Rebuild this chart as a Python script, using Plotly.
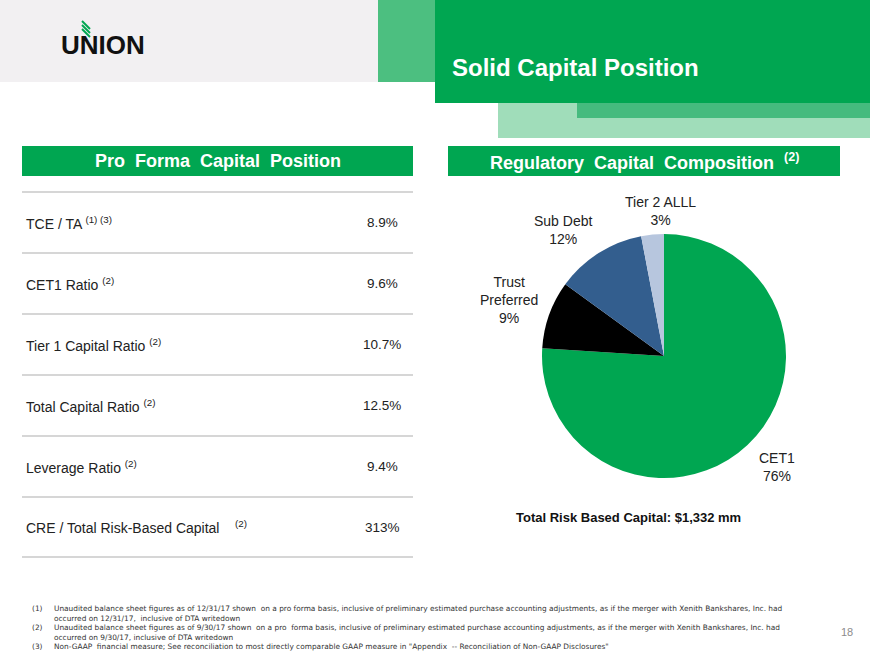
import plotly.graph_objects as go

# ---------------- data ----------------
metrics = ["TCE / TA", "CET1 Ratio", "Tier 1 Capital Ratio", "Total Capital Ratio",
           "Leverage Ratio", "CRE / Total Risk-Based Capital"]
metric_notes = ["(1) (3)", "(2)", "(2)", "(2)", "(2)", "(2)"]
metric_values = ["8.9%", "9.6%", "10.7%", "12.5%", "9.4%", "313%"]

pie_labels = ["CET1", "Trust Preferred", "Sub Debt", "Tier 2 ALLL"]
pie_values = [76, 9, 12, 3]
pie_label_text = ["CET1<br>76%", "Trust<br>Preferred<br>9%", "Sub Debt<br>12%", "Tier 2 ALLL<br>3%"]
pie_colors = ["#00A651", "#000000", "#335E8E", "#B7C6DE"]

footnote_nums = ["(1)", "", "(2)", "", "(3)"]
footnote_lines = [
    "Unaudited balance sheet figures as of 12/31/17 shown  on a pro forma basis, inclusive of preliminary estimated purchase accounting adjustments, as if the merger with Xenith Bankshares, Inc. had",
    "occurred on 12/31/17,  inclusive of DTA writedown",
    "Unaudited balance sheet figures as of 9/30/17 shown  on a pro  forma basis, inclusive of preliminary estimated purchase accounting adjustments, as if the merger with Xenith Bankshares, Inc. had",
    "occurred on 9/30/17, inclusive of DTA writedown",
    "Non-GAAP  financial measure; See reconciliation to most directly comparable GAAP measure in \"Appendix  -- Reconciliation of Non-GAAP Disclosures\"",
]

W, H = 870, 653
GREEN = "#00A651"

fig = go.Figure()

fig.add_trace(go.Pie(
    labels=pie_labels, values=pie_values, sort=False, direction="clockwise",
    rotation=0, textinfo="none", hoverinfo="label+percent",
    marker=dict(colors=pie_colors, line=dict(width=0)),
    domain=dict(x=[542 / W, 786 / W], y=[1 - 478 / H, 1 - 234 / H]),
    showlegend=False,
))

shapes = []
ann = []

def rect(x0, y0, x1, y1, color):
    shapes.append(dict(type="rect", xref="paper", yref="paper",
                       x0=x0 / W, x1=x1 / W, y0=1 - y1 / H, y1=1 - y0 / H,
                       fillcolor=color, line=dict(width=0), layer="below"))

def text(x, y, s, size=13, color="#222222", xanchor="left", bold=False, family="Arial", yanchor="middle", align="left"):
    if bold:
        s = "<b>" + s + "</b>"
    ann.append(dict(xref="paper", yref="paper", x=x / W, y=1 - y / H, text=s,
                    showarrow=False, xanchor=xanchor, yanchor=yanchor, align=align,
                    borderpad=0, font=dict(size=size, color=color, family=family)))

# header blocks
rect(0, 0, 380, 82, "#F2F0F2")
rect(378, 0, 435, 82, "#4CBF80")
rect(498, 103, 870, 138, "#A0DDBA")
rect(577, 103, 870, 118, "#45BB7E")
rect(435, 0, 870, 103, GREEN)
text(451, 68, "Solid Capital Position", size=24, color="white", bold=True, family="Liberation Sans Narrow, Arial Narrow, Arial")

# logo
text(60, 45, "<b>UNION</b>", size=26, color="#111111", family="Liberation Sans Narrow, Arial Narrow, Arial")
for i in range(3):
    shapes.append(dict(type="line", xref="paper", yref="paper",
                       x0=82 / W, y0=1 - (21 + 4 * i) / H,
                       x1=90 / W, y1=1 - (29 + 4 * i) / H,
                       line=dict(color=GREEN, width=2)))

# section headers
rect(22, 146, 413, 176, GREEN)
text(218, 161, "Pro  Forma  Capital  Position", size=18, color="white", bold=True, xanchor="center")
rect(448, 146, 840, 176, GREEN)
text(644, 161, "Regulatory  Capital  Composition  <sup>(2)</sup>", size=18, color="white", bold=True, xanchor="center")

# table
line_y = [192, 253, 314, 375, 436, 497, 557]
for ly in line_y:
    shapes.append(dict(type="line", xref="paper", yref="paper", x0=22 / W, x1=413 / W,
                       y0=1 - ly / H, y1=1 - ly / H, line=dict(color="#C8C8C8", width=1.5)))
for i, (m, n, v) in enumerate(zip(metrics, metric_notes, metric_values)):
    cy = (line_y[i] + line_y[i + 1]) / 2
    gap = "   " if i == 5 else ""
    text(25, cy, f"{m} {gap}<sup>{n}</sup>", size=14)
    text(382, cy, v, size=13.5, xanchor="center")

# pie labels
pie_label_pos = [(777, 467), (509, 300), (563, 230), (660, 211)]
for t, (x, y) in zip(pie_label_text, pie_label_pos):
    text(x, y, t, size=14, xanchor="center", align="center")

text(628, 517, "Total Risk Based Capital: $1,332 mm", size=13, color="#111111", bold=True, xanchor="center")

# footnotes (one block per column)
text(31, 603, "<br>".join(n if n else " " for n in footnote_nums), size=7.4,
     color="#333333", family="DejaVu Sans", yanchor="top")
text(53, 603, "<br>".join(footnote_lines), size=7.4,
     color="#333333", family="DejaVu Sans", yanchor="top")
text(847, 632, "18", size=11, color="#8C8C8C", xanchor="center")

fig.update_layout(width=W, height=H, margin=dict(l=0, r=0, t=0, b=0),
                  paper_bgcolor="white", plot_bgcolor="white",
                  shapes=shapes, annotations=ann)
fig.write_html("out.html", config={"displayModeBar": False},
               post_script="document.body.style.margin='0';document.body.style.overflow='hidden';")
